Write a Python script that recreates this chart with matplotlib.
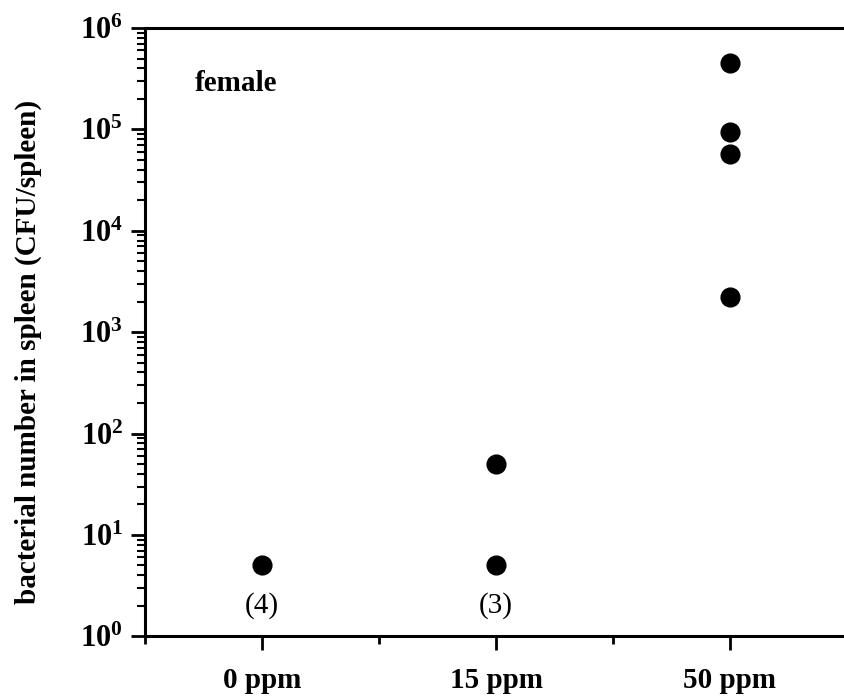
import numpy as np
import matplotlib
matplotlib.use('Agg')
import matplotlib.pyplot as plt
from matplotlib.ticker import FixedLocator, LogLocator, NullFormatter

plt.rcParams['font.family'] = ['Liberation Serif', 'DejaVu Serif']
plt.rcParams['mathtext.fontset'] = 'custom'
plt.rcParams['mathtext.rm'] = 'Liberation Serif:bold'
plt.rcParams['mathtext.bf'] = 'Liberation Serif:bold'

# spleen counts per dose group (CFU/spleen)
doses = ['0 ppm', '15 ppm', '50 ppm']
cfu_0 = [5.0]
cfu_15 = [5.0, 50.0]
cfu_50 = [2200.0, 57000.0, 94000.0, 450000.0]
group_sizes = ['(4)', '(3)']
decades = [0, 1, 2, 3, 4, 5, 6]

fig = plt.figure(figsize=(8.45, 7.0), dpi=100)
ax = fig.add_axes([0.172, 0.091, 0.83, 0.869])

for i, vals in enumerate([cfu_0, cfu_15, cfu_50]):
    ax.plot([i] * len(vals), vals, 'o', color='black', markersize=13.5,
            linestyle='none')

for i, lab in enumerate(group_sizes):
    ax.text(i, 2.0, lab, ha='center', va='center', fontsize=21)

ax.text(-0.29, 10 ** 5.45, 'female', ha='left', va='center', fontsize=21,
        fontweight='bold')

ax.set_yscale('log')
ax.set_ylim(1, 1e6)
ax.set_xlim(-0.5, 2.5)

ax.yaxis.set_major_locator(FixedLocator([10.0 ** d for d in decades]))
ax.set_yticklabels([r'$\mathbf{10^{%d}}$' % d for d in decades])
ax.yaxis.set_minor_locator(LogLocator(base=10, subs=np.arange(2, 10)))
ax.yaxis.set_minor_formatter(NullFormatter())

ax.set_xticks(range(len(doses)))
ax.set_xticklabels(doses, fontweight='bold')
ax.set_xticks([-0.5, 0.5, 1.5], minor=True)

ax.tick_params(axis='both', which='major', direction='out', length=10,
               width=2, labelsize=22, pad=6)
ax.tick_params(axis='y', which='minor', direction='out', length=6, width=1.5)
ax.tick_params(axis='x', which='minor', direction='out', length=6, width=2)
ax.tick_params(axis='x', which='major', labelsize=21, pad=12)

for side in ['left', 'bottom', 'top']:
    ax.spines[side].set_linewidth(2.2)
ax.spines['right'].set_visible(False)

ax.set_ylabel('bacterial number in spleen (CFU/spleen)', fontsize=21,
              fontweight='bold')
ax.yaxis.set_label_coords(-0.148, 0.467)

fig.savefig('out.png', dpi=100)
